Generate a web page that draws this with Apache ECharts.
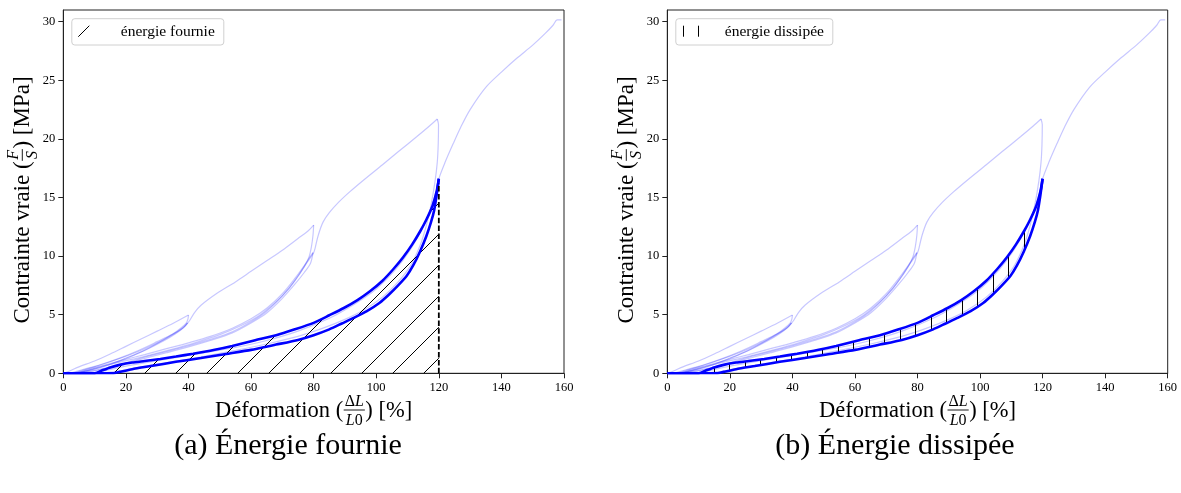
<!DOCTYPE html>
<html><head><meta charset="utf-8">
<script src="https://cdn.jsdelivr.net/npm/echarts@6/dist/echarts.min.js"></script>
<style>html,body{margin:0;padding:0;background:#fff}#c{width:1181px;height:493px}</style>
</head><body><div id="c"></div>
<script>
// ---------- data ----------
const xTicks = [0, 20, 40, 60, 80, 100, 120, 140, 160];
const yTicks = [0, 5, 10, 15, 20, 25, 30];

// full test (light curves): Deformation [%], Contrainte vraie [MPa]
const essaiCharge0_40 = [[0,0],[2,0.2],[5,0.55],[10,1.05],[15,1.65],[20,2.3],[25,2.95],[30,3.6],[35,4.25],[40,4.97]];
const essaiDecharge40_a = [[40,4.97],[39.8,4.6],[39.2,4.25],[37.5,3.85],[35,3.35],[30,2.55],[25,1.85],[20,1.25],[15,0.75],[10,0.35],[5,0.08],[2,0]];
const essaiRecharge40_a = [[2,0],[6,0.3],[12,0.75],[18,1.3],[24,1.95],[30,2.7],[35,3.35],[38,3.85],[39.7,4.3]];
const essaiDecharge40_b = [[39.7,4.3],[38.5,3.9],[36,3.4],[32,2.75],[26,1.95],[20,1.3],[14,0.7],[8,0.25],[3,0]];
const essaiRecharge40_b = [[3,0],[8,0.4],[14,0.9],[20,1.45],[26,2.1],[32,2.85],[36,3.45],[39,4.05],[40.5,4.55]];
const essaiCharge40_80 = [[40.5,4.55],[42,5.2],[44,5.8],[49,6.8],[55,7.8],[60,8.7],[65,9.6],[70,10.5],[75,11.5],[78,12.1],[80,12.65]];
const essaiDecharge80_a = [[80,12.65],[79.8,11.8],[79.3,10.8],[78.5,9.9],[77,9.1],[74,7.9],[70,6.6],[65,5.3],[60,4.4],[54,3.55],[47,2.9],[40,2.35],[33,1.85],[25,1.3],[18,0.75],[10,0.25],[4,0]];
const essaiRecharge80_a = [[4,0],[10,0.5],[18,1.05],[26,1.6],[33,2.1],[40,2.6],[47,3.15],[54,3.85],[60,4.65],[65,5.55],[70,6.8],[74,8.1],[77,9.2],[79,10.0],[79.8,10.3]];
const essaiDecharge80_b = [[79.8,10.3],[79,9.4],[77,8.6],[74,7.6],[70,6.4],[65,5.15],[60,4.3],[54,3.45],[47,2.8],[40,2.25],[33,1.75],[25,1.2],[18,0.7],[11,0.25],[5,0]];
const essaiRecharge80_b = [[5,0],[11,0.5],[18,0.95],[26,1.45],[34,2.0],[42,2.6],[50,3.3],[57,4.1],[63,5.0],[68,6.1],[72,7.2],[75,8.3],[78,9.5],[80,10.3],[80.5,10.7]];
const essaiCharge80_120 = [[80.5,10.7],[81.5,11.8],[83,12.9],[85,13.7],[88,14.6],[91.6,15.5],[96,16.5],[102,17.8],[107,18.9],[113,20.2],[117,21.1],[119.5,21.7]];
const essaiDecharge120_a = [[119.5,21.7],[119.9,21.2],[119.8,19.5],[119.5,18],[118.8,16.4],[117.6,14.5],[116,12.6],[114,10.9],[111,9.2],[107,7.8],[102,6.5],[96,5.4],[90,4.6],[83,3.85],[75,3.15],[65,2.5],[55,1.95],[45,1.45],[35,1.0],[25,0.55],[16,0.12],[10,0]];
const essaiRecharge120_a = [[10,0],[18,0.5],[25,0.85],[35,1.3],[45,1.75],[55,2.2],[65,2.8],[75,3.6],[85,4.7],[93,5.9],[100,7.2],[106,8.8],[111,10.6],[115,12.5],[118,14.4],[119.6,15.9]];
const essaiChargeFinale = [[118,14.5],[119.2,15.6],[120,16.6],[122,18.0],[124.6,19.6],[127,21.0],[130,22.5],[135,24.4],[140,25.7],[145,26.9],[150,28.0],[154,29.0],[156.5,29.7],[157.8,30.15],[159.2,30.15]];

// highlighted cycle at 120 % (dark blue)
const chargeCycle120 = [[0,0],[10,0],[12,0.2],[15,0.5],[18,0.72],[22,0.92],[26,1.05],[31,1.22],[36,1.43],[41.5,1.67],[48,1.98],[54,2.33],[61,2.8],[68,3.25],[74,3.75],[80,4.3],[85,4.95],[89.5,5.55],[94,6.25],[98,7.0],[102,7.9],[105.5,8.9],[108.6,9.9],[111.5,11.0],[114,12.1],[116,13.1],[118,14.3],[119.3,15.5],[120,16.6]];
const dechargeCycle120 = [[120,16.6],[119.3,15.2],[118.5,13.9],[117.5,12.9],[116,11.7],[114,10.4],[111.8,9.2],[109.7,8.3],[107,7.5],[104,6.7],[101,6.0],[97,5.3],[93,4.75],[89,4.25],[85,3.75],[80,3.25],[75,2.85],[68,2.45],[60,2.0],[52,1.65],[44,1.3],[36,0.98],[28,0.62],[22,0.35],[18,0.12],[16,0],[0,0]];

const essaiCurves = [essaiCharge0_40, essaiDecharge40_a, essaiRecharge40_a, essaiDecharge40_b, essaiRecharge40_b,
  essaiCharge40_80, essaiDecharge80_a, essaiRecharge80_a, essaiDecharge80_b, essaiRecharge80_b,
  essaiCharge80_120, essaiDecharge120_a, essaiRecharge120_a, essaiChargeFinale];

const legendLabels = ['énergie fournie', 'énergie dissipée'];
const captions = ['(a) Énergie fournie', '(b) Énergie dissipée'];

// ---------- styles ----------
const SERIF = '"Liberation Serif", "Times New Roman", serif';
const LIGHT = 'rgba(0,0,255,0.22)';
const DARK = '#0000ff';

function diagPattern() {
  const c = document.createElement('canvas'); c.width = 31; c.height = 31;
  const g = c.getContext('2d'); g.strokeStyle = '#000'; g.lineWidth = 1;
  for (const k of [-31, 0, 31]) { g.beginPath(); g.moveTo(-10, 22 + k + 10); g.lineTo(22 + k + 10, -10); g.stroke(); }
  return { image: c, repeat: 'repeat' };
}
function vertPattern() {
  const c = document.createElement('canvas'); c.width = 31; c.height = 10;
  const g = c.getContext('2d'); g.fillStyle = '#000';
  g.fillRect(1, 0, 1, 10); g.fillRect(16, 0, 1, 10);
  return { image: c, repeat: 'repeat' };
}
const PAT = [diagPattern(), vertPattern()];

const grids = [
  { left: 63.3, top: 10, width: 500.7, height: 363.3 },
  { left: 667.3, top: 10, width: 500.4, height: 363.3 }
];

const axisCol = '#222';
const xAxes = grids.map((g, i) => ({
  type: 'value', gridIndex: i, min: 0, max: 160,
  axisLine: { show: true, lineStyle: { color: axisCol, width: 1 } },
  axisTick: { show: true, length: 5, customValues: xTicks, lineStyle: { color: axisCol, width: 1 } },
  axisLabel: { customValues: xTicks, fontFamily: SERIF, fontSize: 12.5, color: '#000', margin: 8 },
  splitLine: { show: false }
}));
const yAxes = grids.map((g, i) => ({
  type: 'value', gridIndex: i, min: 0, max: 31,
  axisLine: { show: true, lineStyle: { color: axisCol, width: 1 } },
  axisTick: { show: true, length: 5, customValues: yTicks, lineStyle: { color: axisCol, width: 1 } },
  axisLabel: { customValues: yTicks, fontFamily: SERIF, fontSize: 12.5, color: '#000', margin: 8 },
  splitLine: { show: false }
}));

const series = [];
for (let i = 0; i < 2; i++) {
  essaiCurves.forEach((d, k) => series.push({
    type: 'line', name: 'essai', xAxisIndex: i, yAxisIndex: i, data: d,
    showSymbol: false, smooth: 0.3, silent: true, z: 1,
    lineStyle: { color: LIGHT, width: 1.2 }
  }));
  // hatched region
  const poly = i === 0
    ? chargeCycle120.filter(p => p[0] >= 10).concat([[chargeCycle120[chargeCycle120.length - 1][0], 0]])
    : chargeCycle120.filter(p => p[0] >= 10).concat(dechargeCycle120.filter(p => p[1] > 0 || p[0] > 0));
  series.push({
    type: 'custom', xAxisIndex: i, yAxisIndex: i, data: [0], silent: true, z: 2,
    renderItem: (params, api) => ({
      type: 'polygon',
      shape: { points: poly.map(p => api.coord(p)) },
      style: { fill: PAT[i], stroke: null }
    })
  });
  series.push({ type: 'line', name: 'charge', xAxisIndex: i, yAxisIndex: i, data: chargeCycle120,
    showSymbol: false, smooth: 0.2, silent: true, z: 3, lineStyle: { color: DARK, width: 2.6 } });
  series.push({ type: 'line', name: 'decharge', xAxisIndex: i, yAxisIndex: i, data: dechargeCycle120,
    showSymbol: false, smooth: 0.2, silent: true, z: 3, lineStyle: { color: DARK, width: 2.6 } });
}
const top120 = chargeCycle120[chargeCycle120.length - 1];
series.push({ type: 'line', xAxisIndex: 0, yAxisIndex: 0, data: [[top120[0], 0], [top120[0], top120[1] - 0.4]],
  showSymbol: false, silent: true, z: 4, lineStyle: { color: '#000', width: 1.8, type: [5.5, 2.4] } });

// ---------- text with fractions ----------
const mctx = document.createElement('canvas').getContext('2d');
function tw(t, font) { mctx.font = font; return mctx.measureText(t).width; }
function txt(x, y, t, font) {
  return { type: 'text', x: x, y: y, silent: true,
    style: { text: t, font: font, fill: '#000', textAlign: 'left', textVerticalAlign: 'middle', align: 'left', verticalAlign: 'middle' } };
}
function mathLabel(cx, cy, rot, pre, num, den, post, size) {
  const fM = size + 'px ' + SERIF;
  const fs = Math.round(size * 0.7);
  const fU = fs + 'px ' + SERIF, fI = 'italic ' + fs + 'px ' + SERIF;
  const wPiece = arr => arr.reduce((s, p) => s + tw(p[0], p[1] ? fI : fU), 0);
  const wPre = tw(pre, fM), wPost = tw(post, fM);
  const wN = wPiece(num), wD = wPiece(den), wF = Math.max(wN, wD) + 3;
  const total = wPre + wF + wPost;
  let x = -total / 2;
  const ch = [txt(x, 0, pre, fM)];
  x += wPre;
  const put = (arr, w, y) => { let xx = x + (wF - w) / 2; arr.forEach(p => { const f = p[1] ? fI : fU; ch.push(txt(xx, y, p[0], f)); xx += tw(p[0], f); }); };
  put(num, wN, -size * 0.42);
  put(den, wD, size * 0.42);
  ch.push({ type: 'line', silent: true, shape: { x1: x + 0.5, y1: -1, x2: x + wF - 0.5, y2: -1 }, style: { stroke: '#000', lineWidth: 0.9 } });
  x += wF;
  ch.push(txt(x, 0, post, fM));
  return { type: 'group', x: cx, y: cy, rotation: rot, children: ch };
}

const graphics = [];
for (let i = 0; i < 2; i++) {
  const g = grids[i];
  const cxp = g.left + g.width / 2;
  graphics.push(mathLabel(cxp, 411, 0, 'Déformation (', [['Δ', false], ['L', true]], [['L', true], ['0', false]], ') [%]', 22.5));
  graphics.push(mathLabel(g.left - 40, 200, Math.PI / 2, 'Contrainte vraie (', [['F', true]], [['S', true]], ') [MPa]', 23));
  // legend
  const lx = g.left + 8.5, ly = 18.7;
  graphics.push({ type: 'rect', silent: true, z: 10, shape: { x: lx, y: ly, width: (i === 0 ? 152 : 157), height: 26.3, r: 3 },
    style: { fill: 'rgba(255,255,255,0.8)', stroke: '#d0d0d0', lineWidth: 1 } });
  graphics.push({ type: 'rect', silent: true, z: 11, shape: { x: lx + 6, y: ly + 7, width: 31, height: 11 },
    style: { fill: PAT[i], stroke: null } });
  graphics.push({ type: 'text', silent: true, z: 11, x: lx + 49, y: ly + 13.5,
    style: { text: legendLabels[i], font: '15.5px ' + SERIF, fill: '#000', textVerticalAlign: 'middle', verticalAlign: 'middle' } });
  // caption
  graphics.push({ type: 'text', silent: true, x: (i === 0 ? 288 : 895), y: 446,
    style: { text: captions[i], font: '30px ' + SERIF, fill: '#000', textAlign: 'center', align: 'center', textVerticalAlign: 'middle', verticalAlign: 'middle' } });
}

const chart = echarts.init(document.getElementById('c'), null, { renderer: 'canvas' });
chart.setOption({
  animation: false,
  backgroundColor: '#fff',
  grid: grids.map(g => Object.assign({ show: true, borderColor: axisCol, borderWidth: 1, backgroundColor: 'transparent' }, g)),
  xAxis: xAxes,
  yAxis: yAxes,
  series: series,
  graphic: graphics
});
</script>
</body></html>
